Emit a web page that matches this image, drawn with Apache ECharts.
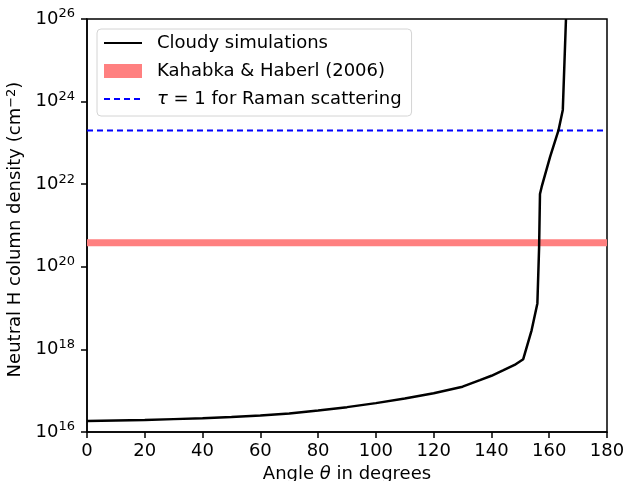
<!DOCTYPE html>
<html>
<head>
<meta charset="utf-8">
<script src="https://cdn.jsdelivr.net/npm/echarts@6/dist/echarts.min.js"></script>
<style>
  html, body { margin: 0; padding: 0; background: #fff; }
  #chart { width: 625px; height: 481px; }
</style>
</head>
<body>
<div id="chart"></div>
<script>
// angle (deg) vs neutral H column density (cm^-2)
var angles = [0, 10, 20, 30, 40, 50, 60, 70, 80, 90, 100, 110, 120, 130, 136, 140, 144, 148, 151,
  153.9, 155.9, 156.5, 156.8, 157.4, 160.3, 163.2, 164.7, 165.8]
var density = [1.85e16, 1.9e16, 1.95e16, 2.05e16, 2.15e16, 2.3e16, 2.5e16, 2.8e16, 3.3e16, 4e16, 5e16,
  6.5e16, 8.7e16, 1.25e17, 1.8e17, 2.3e17, 3.1e17, 4.2e17, 5.8e17,
  2.9e18, 1.3e19, 3e20, 5.8e21, 8.7e21, 4.6e22, 2e23, 6.3e23, 1e26]
var kahabka = 3.8e20
var ramanTau1 = 2e23
var xRange = [0, 180]
var yTicksExp = [16, 18, 20, 22, 24, 26]

var font = 'DejaVu Sans'
var fs = 18
var chart = echarts.init(document.getElementById('chart'))

chart.setOption({
  animation: false,
  textStyle: { fontFamily: font },
  grid: {
    left: 87, right: 18, top: 19, bottom: 49,
    outerBoundsMode: 'none',
    containLabel: false,
    show: true, borderColor: '#000', borderWidth: 1.5, backgroundColor: 'transparent'
  },
  legend: {
    orient: 'vertical',
    left: 97, top: 29,
    padding: [5, 10, 8, 6],
    backgroundColor: '#fff',
    borderColor: '#d4d4d4',
    borderWidth: 1,
    borderRadius: 4,
    itemWidth: 38,
    itemHeight: 14,
    itemGap: 10,
    textStyle: {
      fontFamily: font, fontSize: fs, color: '#000', padding: [0, 0, 0, 10],
      rich: { i: { fontFamily: font, fontSize: fs, fontStyle: 'italic' } }
    },
    formatter: function (name) {
      if (name === 'tau') return '{i|τ} = 1 for Raman scattering'
      return name
    },
    data: [
      { name: 'Cloudy simulations', itemStyle: { opacity: 0 } },
      { name: 'Kahabka & Haberl (2006)', icon: 'rect', itemStyle: { color: '#ff8080' } },
      { name: 'tau', itemStyle: { opacity: 0 } }
    ]
  },
  xAxis: {
    type: 'value',
    min: xRange[0], max: xRange[1], interval: 20,
    name: 'Angle {i|θ} in degrees',
    nameLocation: 'middle',
    nameGap: 29,
    nameTextStyle: {
      fontSize: fs, color: '#000', fontFamily: font,
      rich: { i: { fontSize: fs, fontStyle: 'italic', fontFamily: font } }
    },
    axisLine: { lineStyle: { color: '#000', width: 1.5 } },
    axisTick: { length: 6, lineStyle: { color: '#000', width: 1.5 } },
    axisLabel: { fontSize: fs, color: '#000', fontFamily: font, margin: 10 },
    splitLine: { show: false }
  },
  yAxis: {
    type: 'log',
    logBase: 10,
    min: Math.pow(10, yTicksExp[0]),
    max: Math.pow(10, yTicksExp[yTicksExp.length - 1]),
    interval: 2,
    name: 'Neutral H column density (cm{s|−2})',
    nameLocation: 'middle',
    nameRotate: 90,
    nameGap: 54,
    nameTextStyle: {
      fontSize: fs, color: '#000', fontFamily: font,
      padding: [0, 8, 0, 0],
      rich: { s: { fontSize: 13, fontFamily: font, padding: [0, 0, 9, 0] } }
    },
    axisLine: { show: true, lineStyle: { color: '#000', width: 1.5 } },
    axisTick: { show: true, length: 6, lineStyle: { color: '#000', width: 1.5 } },
    minorTick: { show: false },
    axisLabel: {
      margin: 12,
      formatter: function (v) {
        return '{b|10}{s|' + Math.round(Math.log10(v)) + '}'
      },
      rich: {
        b: { fontSize: fs, color: '#000', fontFamily: font },
        s: { fontSize: 13, color: '#000', fontFamily: font, padding: [0, 0, 10, 0] }
      }
    },
    splitLine: { show: false }
  },
  series: [
    {
      name: 'Kahabka & Haberl (2006)',
      type: 'line',
      data: [[xRange[0], kahabka], [xRange[1], kahabka]],
      symbol: 'none',
      lineStyle: { color: '#ff8080', width: 7 },
      itemStyle: { color: '#ff8080' },
      z: 1
    },
    {
      name: 'tau',
      type: 'line',
      data: [[xRange[0], ramanTau1], [xRange[1], ramanTau1]],
      symbol: 'none',
      lineStyle: { color: '#0000ff', width: 2, type: [6, 4] },
      itemStyle: { color: '#0000ff' },
      z: 2
    },
    {
      name: 'Cloudy simulations',
      type: 'line',
      data: angles.map(function (a, i) { return [a, density[i]] }),
      symbol: 'none',
      lineStyle: { color: '#000', width: 2.5 },
      itemStyle: { color: '#000' },
      z: 3
    }
  ]
})
</script>
</body>
</html>
